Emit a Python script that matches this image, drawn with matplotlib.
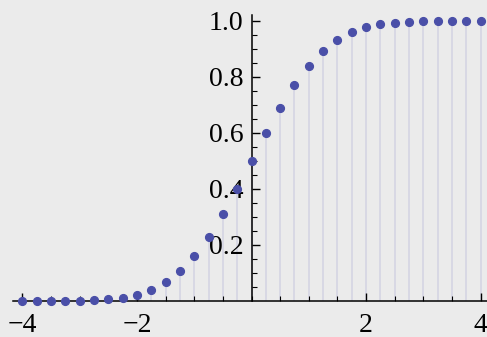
import numpy as np
import matplotlib.pyplot as plt

# sample positions and values
x_vals = [-4.0, -3.75, -3.5, -3.25, -3.0, -2.75, -2.5, -2.25, -2.0, -1.75, -1.5,
          -1.25, -1.0, -0.75, -0.5, -0.25, 0.0, 0.25, 0.5, 0.75, 1.0, 1.25, 1.5,
          1.75, 2.0, 2.25, 2.5, 2.75, 3.0, 3.25, 3.5, 3.75, 4.0]
y_vals = [0.000, 0.000, 0.000, 0.001, 0.001, 0.003, 0.006, 0.012, 0.023, 0.040, 0.067,
          0.106, 0.159, 0.227, 0.309, 0.401, 0.500, 0.599, 0.691, 0.773, 0.841, 0.894, 0.933,
          0.960, 0.977, 0.988, 0.994, 0.997, 0.999, 0.999, 1.000, 1.000, 1.000]
x_ticks = [-4, -2, 2, 4]
x_tick_labels = ["\u22124", "\u22122", "2", "4"]
y_ticks = [0.2, 0.4, 0.6, 0.8, 1.0]
y_tick_labels = ["0.2", "0.4", "0.6", "0.8", "1.0"]

plt.rcParams['font.family'] = ['Liberation Serif', 'DejaVu Serif']
bg = '#ebebeb'
fig = plt.figure(figsize=(4.87, 3.37), dpi=100, facecolor=bg)
ax = fig.add_axes([0, 0, 1, 1], facecolor=bg)

# stems then dots
ax.vlines(x_vals, 0, y_vals, color='#d6d6e4', lw=1.3, zorder=1)
ax.plot(x_vals, y_vals, 'o', color='#4a4fa8', ms=5.6, zorder=3, clip_on=False)

ax.set_xlim(-4.393, 4.1135)
ax.set_ylim(-0.1286, 1.075)

# axes through the origin
for s in ['top', 'right']:
    ax.spines[s].set_visible(False)
ax.spines['left'].set_position(('data', 0))
ax.spines['bottom'].set_position(('data', 0))
ax.spines['left'].set_bounds(0, 1.02)
ax.spines['bottom'].set_bounds(-4.17, 4.12)
for s in ['left', 'bottom']:
    ax.spines[s].set_linewidth(1.1)
    ax.spines[s].set_zorder(2)

ax.set_xticks(x_ticks)
ax.set_xticklabels(x_tick_labels)
ax.set_xticks(np.arange(-4, 4.01, 0.5), minor=True)
ax.set_yticks(y_ticks)
ax.set_yticklabels(y_tick_labels)
ax.set_yticks(np.arange(0.05, 1.01, 0.05), minor=True)

ax.tick_params(axis='both', which='major', direction='in', length=6, width=1.0,
               labelsize=20, colors='black')
ax.tick_params(axis='both', which='minor', direction='in', length=3.5, width=0.8)
ax.tick_params(axis='x', which='major', pad=9)
ax.tick_params(axis='y', which='major', pad=6)

fig.savefig('out.png', dpi=100, facecolor=bg)
